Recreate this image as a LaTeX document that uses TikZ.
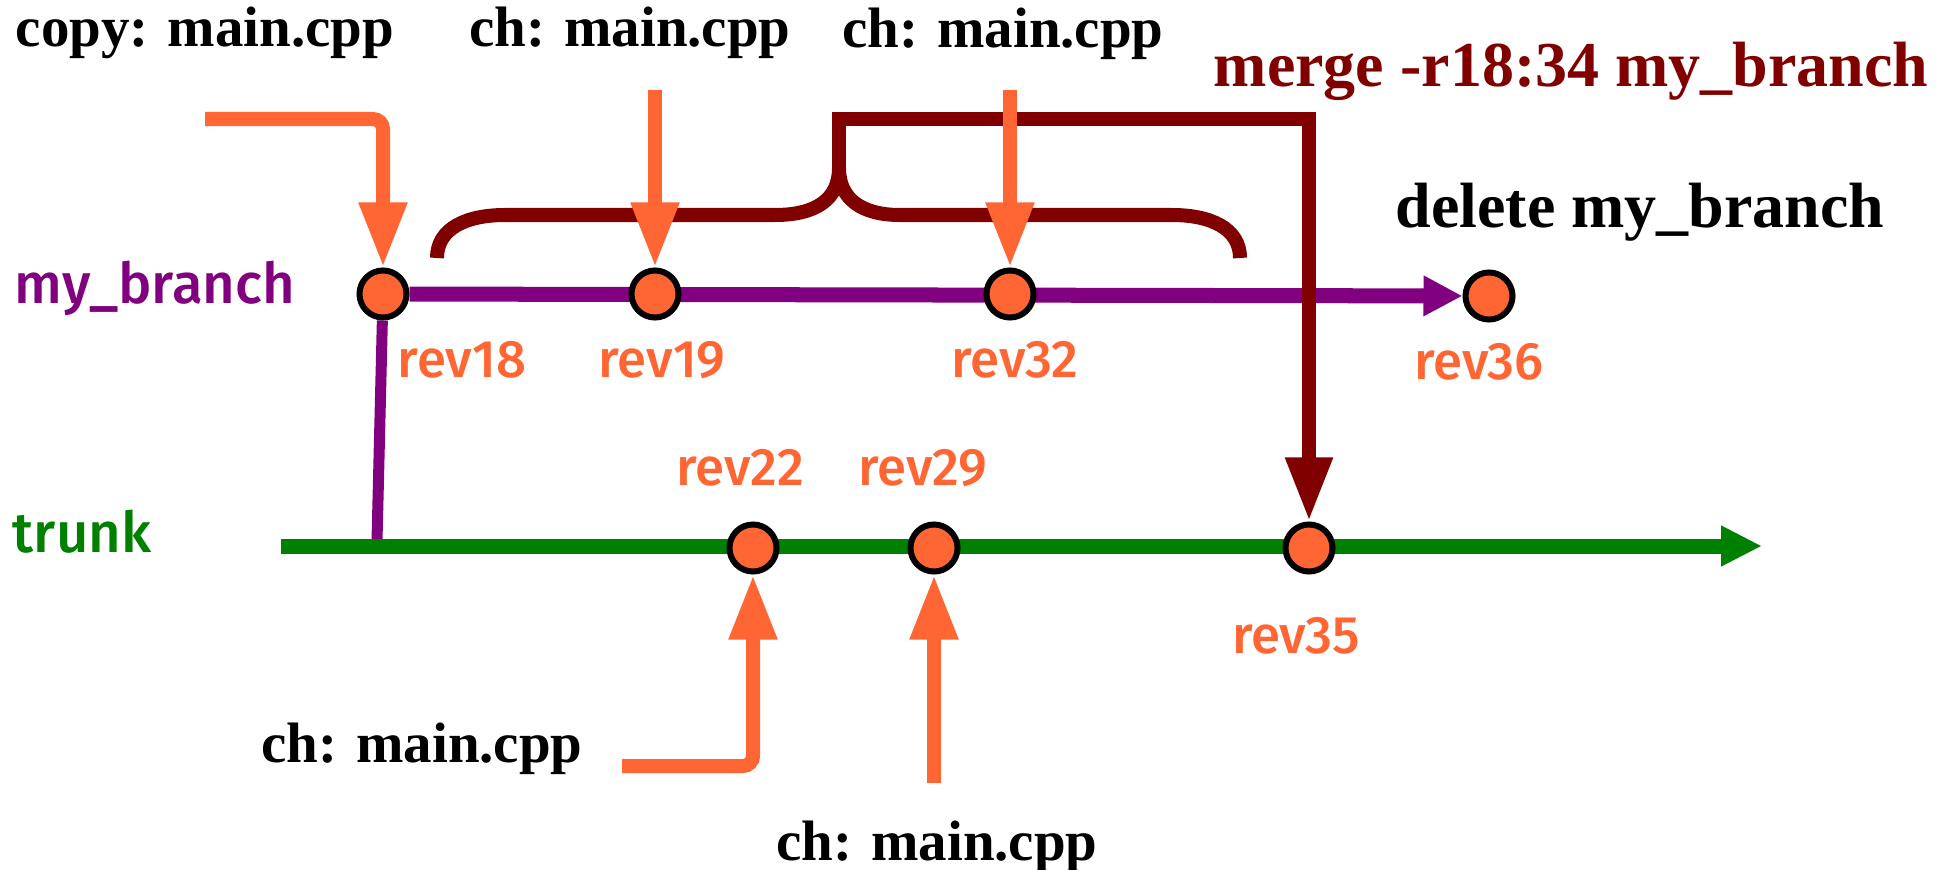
\documentclass[tikz,border=0pt]{standalone}
\usepackage{fontspec}
\setmainfont{Liberation Serif}
\newfontfamily\revfont{Fira Sans}[UprightFont = {* Medium}]
\usetikzlibrary{arrows.meta,backgrounds}
\definecolor{revorange}{HTML}{FF6633}
\definecolor{branchpurple}{HTML}{800080}
\definecolor{trunkgreen}{HTML}{008000}
\definecolor{mergered}{HTML}{800000}
\tikzset{
	revdot/.style = {shape = circle, fill = revorange, draw = black, line width = 0.6mm, minimum size = 4.7mm, inner sep = 0pt},
	revlabel/.style = {anchor = base, text = revorange, font = \revfont\fontsize{15}{17}\selectfont},
	linename/.style = {anchor = base, font = \revfont\fontsize{16}{18}\selectfont},
	chnote/.style = {anchor = base, font = \fontsize{16.2}{18}\selectfont\bfseries},
	bignote/.style = {anchor = base, font = \fontsize{18.2}{20}\selectfont\bfseries},
	chgarrow/.style = {draw = revorange, line width = 1.4mm, rounded corners = 1mm, -{Triangle[length = 6.5mm, width = 4.5mm]}},
	mergeline/.style = {draw = mergered, line width = 1.4mm},
	mergearrow/.style = {mergeline, -{Triangle[length = 6.4mm, width = 4.4mm]}},
	branchline/.style = {draw = branchpurple, line width = 1.5mm},
	trunkline/.style = {draw = trunkgreen, line width = 1.5mm, -{Triangle[length = 4.1mm, width = 3.8mm]}}
}
\begin{document}
\begin{tikzpicture}[x = 0.01cm, y = -0.01cm]
		\useasboundingbox (0, 0) rectangle (1952, 870);
		\foreach \name/\x/\y in {rev18/383/294, rev19/655/294, rev32/1010/294, rev36/1489/296, rev22/753/548, rev29/934/548, rev35/1309/548}{
			\node[revdot] (\name) at (\x, \y) {};}
		\foreach \name/\x/\y in {rev18/462/377, rev19/662/377, rev32/1015/377, rev36/1479/379, rev22/740/485, rev29/923/485, rev35/1296/653}{
			\node[revlabel] (\name label) at (\x, \y) {\name};}
		\node[linename, text = branchpurple] (branchname) at (155, 303) {my\_branch};
		\node[linename, text = trunkgreen] (trunkname) at (82, 552) {trunk};
		\node[chnote] (copynote) at (205, 47) {copy: main.cpp};
		\node[chnote] (ch19note) at (630, 47) {ch: main.cpp};
		\node[chnote] (ch32note) at (1003, 48) {ch: main.cpp};
		\node[chnote] (ch22note) at (422, 762) {ch: main.cpp};
		\node[chnote] (ch29note) at (937, 860) {ch: main.cpp};
		\node[bignote, text = mergered] (mergenote) at (1571, 87) {merge -r18:34 my\_branch};
		\node[bignote] (deletenote) at (1640, 228) {delete my\_branch};
		\coordinate (forkpt) at (377, 541);
		\coordinate (trunkstart) at (281, 546);
		\coordinate (trunkend) at (1762, 546);
		\begin{pgfonlayer}{background}
			\draw[branchline, line width = 1.1mm] (rev18) -- (forkpt);
			\draw[branchline, -{Triangle[length = 3.9mm, width = 3.8mm]}] (rev18) -- (rev36);
			\draw[trunkline] (trunkstart) -- (trunkend);
		\end{pgfonlayer}
		\coordinate (braceleft) at (437, 258);
		\coordinate (braceright) at (1240, 258);
		\coordinate (bracetip) at (839, 168);
		\coordinate (mergetop) at (1309, 119);
		\draw[mergeline] (braceleft) .. controls (437, 228) and (467, 215) .. (505, 215) -- (775, 215) .. controls (815, 215) and (839, 200) .. (bracetip) .. controls (839, 200) and (863, 215) .. (900, 215) -- (1172, 215) .. controls (1210, 215) and (1240, 228) .. (braceright);
		\draw[mergearrow] (bracetip) |- (mergetop) -- (rev35);
		\coordinate (copystart) at (205, 119);
		\coordinate (ch19start) at (655, 90);
		\coordinate (ch32start) at (1010, 90);
		\coordinate (ch22start) at (622, 766);
		\coordinate (ch29start) at (934, 783);
		\draw[chgarrow] (copystart) -| (rev18);
		\draw[chgarrow] (ch19start) -- (rev19);
		\draw[chgarrow] (ch32start) -- (rev32);
		\draw[chgarrow] (ch22start) -| (rev22);
		\draw[chgarrow] (ch29start) -- (rev29);
\end{tikzpicture}
\end{document}
